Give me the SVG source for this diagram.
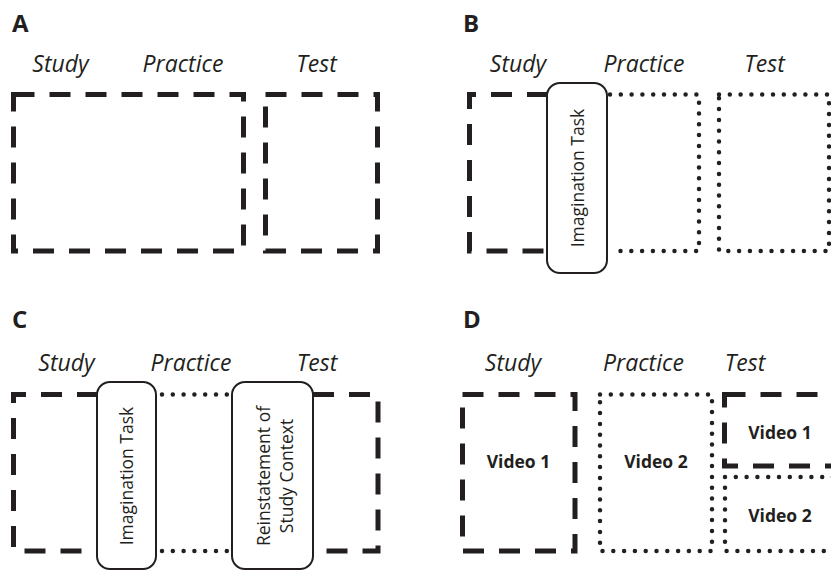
<svg xmlns="http://www.w3.org/2000/svg" width="831" height="571" viewBox="0 0 831 571">
<style>
.bg{fill:#ffffff}
.dash{fill:none;stroke:#231f20;stroke-width:5;stroke-dasharray:21 15}
.dot{fill:none;stroke:#231f20;stroke-width:4.5;stroke-linecap:round;stroke-dasharray:0 10.8}
.box{fill:#ffffff;stroke:#231f20;stroke-width:2}
.lab{font-family:"Open Sans","DejaVu Sans",sans-serif;font-weight:bold;font-size:24px;fill:#231f20}
.ph{font-family:"Open Sans","DejaVu Sans",sans-serif;font-style:italic;font-size:23px;fill:#231f20;text-anchor:middle}
.rt{font-family:"Open Sans","DejaVu Sans",sans-serif;font-size:17.5px;fill:#231f20;text-anchor:middle}
.vid{font-family:"Open Sans","DejaVu Sans",sans-serif;font-weight:bold;font-size:17.5px;fill:#231f20;text-anchor:middle}
</style>
<rect class="bg" x="0" y="0" width="831" height="571"/>

<g id="panelA">
  <text class="lab" x="12" y="32">A</text>
  <text class="ph" x="60.5" y="72">Study</text>
  <text class="ph" x="183" y="72">Practice</text>
  <text class="ph" x="316.5" y="72">Test</text>
  <g id="A-studypractice"><rect class="dash" x="13.5" y="94.5" width="230" height="156.5"/></g>
  <g id="A-test"><rect class="dash" x="265.5" y="94.5" width="112" height="156.5"/></g>
</g>

<g id="panelB">
  <text class="lab" x="463" y="32">B</text>
  <text class="ph" x="518" y="72">Study</text>
  <text class="ph" x="644" y="72">Practice</text>
  <text class="ph" x="764.5" y="72">Test</text>
  <g id="B-study"><path class="dash" d="M548,94.5 H469.5 V251 H548"/></g>
  <g id="B-practice"><path class="dot" d="M610,94.5 H699 V251 H610"/></g>
  <g id="B-test"><rect class="dot" x="719" y="94.5" width="110" height="156.5"/></g>
  <g id="B-imagination">
    <rect class="box" x="547" y="83" width="60" height="190" rx="13"/>
    <text class="rt" transform="translate(583.5,178) rotate(-90)">Imagination Task</text>
  </g>
</g>

<g id="panelC">
  <text class="lab" x="12" y="328">C</text>
  <text class="ph" x="66.5" y="371">Study</text>
  <text class="ph" x="191" y="371">Practice</text>
  <text class="ph" x="317" y="371">Test</text>
  <g id="C-study"><path class="dash" d="M98,394.5 H13.5 V551 H98"/></g>
  <g id="C-practice"><path class="dot" d="M162,394.5 H230 M162,551 H230"/></g>
  <g id="C-test"><path class="dash" d="M313,394.5 H378 V551 H313"/></g>
  <g id="C-imagination">
    <rect class="box" x="97" y="382" width="59" height="187" rx="13"/>
    <text class="rt" transform="translate(133,476) rotate(-90)">Imagination Task</text>
  </g>
  <g id="C-reinstatement">
    <rect class="box" x="232" y="382" width="81" height="187" rx="13"/>
    <text class="rt" transform="translate(270,476) rotate(-90)">Reinstatement of</text>
    <text class="rt" transform="translate(293,476) rotate(-90)">Study Context</text>
  </g>
</g>

<g id="panelD">
  <text class="lab" x="463" y="328">D</text>
  <text class="ph" x="513" y="371">Study</text>
  <text class="ph" x="643.5" y="371">Practice</text>
  <text class="ph" x="745" y="371">Test</text>
  <g id="D-study">
    <rect class="dash" x="462.5" y="394.5" width="112.5" height="156.5"/>
    <text class="vid" x="518.5" y="468">Video 1</text>
  </g>
  <g id="D-practice">
    <rect class="dot" x="600" y="394.5" width="112" height="156.5"/>
    <text class="vid" x="656" y="468">Video 2</text>
  </g>
  <g id="D-test1">
    <rect class="dash" x="724.5" y="394.5" width="115" height="71.5"/>
    <text class="vid" x="780" y="439">Video 1</text>
  </g>
  <g id="D-test2">
    <rect class="dot" x="725" y="477" width="115" height="74"/>
    <text class="vid" x="780" y="522">Video 2</text>
  </g>
</g>
</svg>
